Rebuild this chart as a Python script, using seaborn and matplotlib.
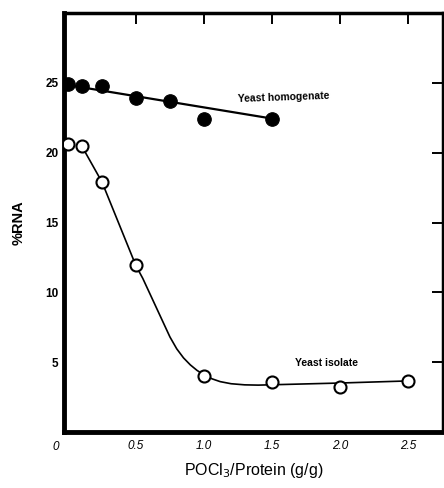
# %RNA vs POCl3/Protein

import numpy as np
import pandas as pd
import seaborn as sns
import matplotlib.pyplot as plt
from matplotlib import transforms

# Yeast homogenate (filled dots)
homog_x = [0.0, 0.1, 0.25, 0.5, 0.75, 1.0, 1.5]
homog_y = [24.9, 24.8, 24.8, 23.9, 23.7, 22.4, 22.4]
homog_line_x = [0.0, 1.5]
homog_line_y = [24.85, 22.45]

# Yeast isolate (open circles)
iso_x = [0.0, 0.1, 0.25, 0.5, 1.0, 1.5, 2.0, 2.5]
iso_y = [20.6, 20.5, 17.9, 11.95, 4.0, 3.6, 3.2, 3.65]
# hand-drawn curve
iso_curve_x = [0.1, 0.25, 0.375, 0.5, 0.55, 0.6, 0.65, 0.7, 0.75, 0.8, 0.85, 0.9,
               0.95, 1.0, 1.06, 1.12, 1.2, 1.3, 1.4, 1.6, 2.0, 2.5]
iso_curve_y = [20.5, 17.9, 14.9, 11.9, 11.0, 9.95, 8.9, 7.85, 6.8, 5.95, 5.3, 4.8,
               4.4, 4.1, 3.8, 3.6, 3.45, 3.37, 3.35, 3.4, 3.5, 3.65]

x_ticks = [0.5, 1.0, 1.5, 2.0, 2.5]
y_ticks = [5, 10, 15, 20, 25]


def make_plot():
    sns.set_theme(style="white")
    plt.rcParams['font.family'] = ['Liberation Sans', 'DejaVu Sans']
    plt.rcParams['text.color'] = 'black'
    plt.rcParams['axes.labelcolor'] = 'black'
    plt.rcParams['xtick.color'] = 'black'
    plt.rcParams['ytick.color'] = 'black'
    fig = plt.figure(figsize=(4.44, 4.88), dpi=100)
    ax = fig.add_axes([0.144, 0.115, 0.854, 0.858])

    hl = pd.DataFrame({"x": homog_line_x, "y": homog_line_y})
    sns.lineplot(ax=ax, data=hl, x="x", y="y", color="black", linewidth=1.6)
    hd = pd.DataFrame({"x": homog_x, "y": homog_y})
    sns.scatterplot(ax=ax, data=hd, x="x", y="y", color="black", s=95,
                    edgecolor="black", zorder=3)

    ic = pd.DataFrame({"x": iso_curve_x, "y": iso_curve_y})
    sns.lineplot(ax=ax, data=ic, x="x", y="y", color="black", linewidth=1.2,
                 sort=False)
    idf = pd.DataFrame({"x": iso_x, "y": iso_y})
    sns.scatterplot(ax=ax, data=idf, x="x", y="y", color="white", s=75,
                    edgecolor="black", linewidth=1.5, zorder=3)

    ax.set_xlim(-0.03, 2.76)
    ax.set_ylim(0, 30)
    ax.set_xticks(x_ticks)
    ax.set_xticklabels([f"{v:.1f}" for v in x_ticks], fontsize=8.5, style="italic")
    ax.set_yticks(y_ticks)
    ax.set_yticklabels([str(v) for v in y_ticks], fontsize=8.5, fontweight="bold")
    ax.tick_params(axis="both", direction="in", length=8, width=1.4,
                   top=True, right=True, color="black", labelcolor="black")
    ax.tick_params(axis="x", pad=6)
    ax.tick_params(axis="y", pad=4)

    for side, w in [("left", 3.5), ("bottom", 3.5), ("top", 2.5), ("right", 2.5)]:
        ax.spines[side].set_visible(True)
        ax.spines[side].set_linewidth(w)
        ax.spines[side].set_color("black")

    trans = transforms.blended_transform_factory(ax.transData, ax.transAxes)
    ax.text(-0.09, -0.035, "0", transform=trans, fontsize=8.5, style="italic",
            ha="center", va="center", color="black")

    ax.text(1.25, 24.0, "Yeast homogenate", fontsize=7.5, fontweight="bold",
            rotation=2, ha="left", va="center", color="black")
    ax.text(1.67, 4.9, "Yeast isolate", fontsize=7.5, fontweight="bold",
            ha="left", va="center", color="black")

    ax.set_xlabel(r"POCl$_3$/Protein (g/g)", fontsize=11.5, labelpad=6, color="black")
    ax.set_ylabel("%RNA", fontsize=10.5, fontweight="bold", labelpad=14, color="black")

    fig.savefig("out.png", dpi=100, facecolor="white")


if __name__ == '__main__':
    make_plot()
